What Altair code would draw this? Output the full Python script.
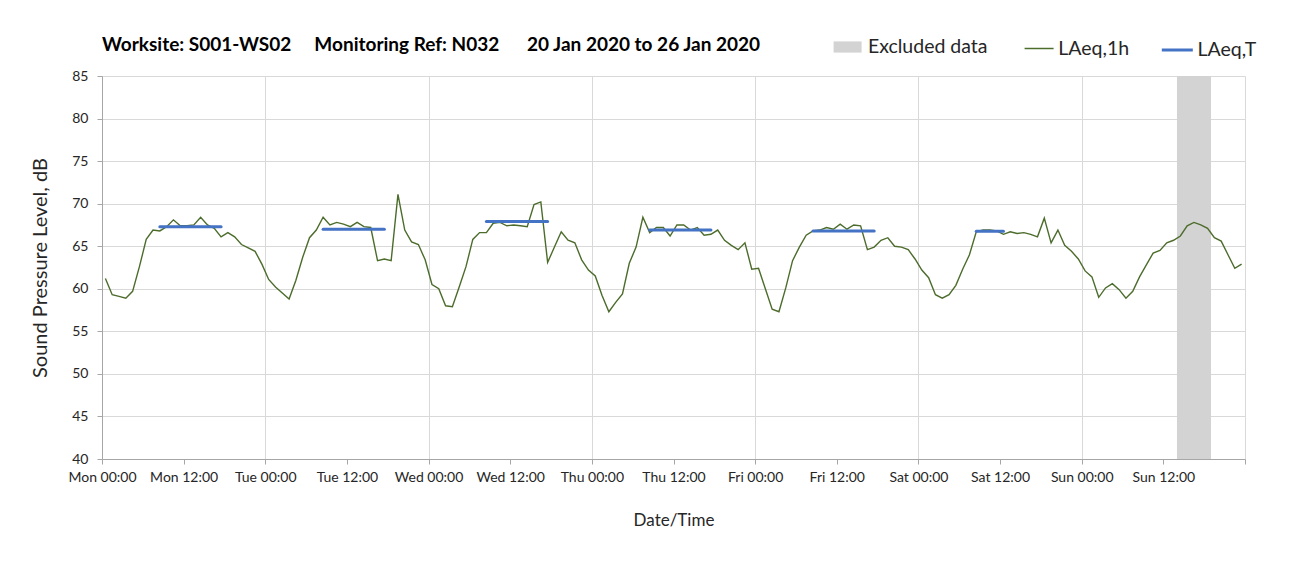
import json
import altair as alt
import pandas as pd

# ---------------- data ----------------
laeq_1h = [
    # Mon
    61.2, 59.3, 59.1, 58.9, 59.7, 62.6, 65.8, 66.9, 66.8, 67.3, 68.1, 67.4,
    67.4, 67.5, 68.4, 67.5, 67.1, 66.1, 66.6, 66.1, 65.2, 64.8, 64.4, 62.9,
    # Tue
    61.1, 60.2, 59.5, 58.8, 61.0, 63.7, 66.0, 66.9, 68.4, 67.5, 67.8, 67.6,
    67.3, 67.8, 67.3, 67.2, 63.3, 63.5, 63.3, 71.1, 66.9, 65.5, 65.2, 63.4,
    # Wed
    60.5, 60.0, 58.0, 57.9, 60.2, 62.6, 65.8, 66.6, 66.6, 67.7, 67.8, 67.4,
    67.5, 67.4, 67.3, 69.9, 70.2, 63.1, 64.9, 66.7, 65.7, 65.4, 63.4, 62.2,
    # Thu
    61.5, 59.2, 57.3, 58.4, 59.4, 63.0, 64.9, 68.4, 66.6, 67.2, 67.2, 66.2,
    67.5, 67.5, 66.9, 67.2, 66.3, 66.4, 66.9, 65.7, 65.1, 64.6, 65.4, 62.3,
    # Fri
    62.4, 60.0, 57.6, 57.3, 60.1, 63.3, 64.9, 66.3, 66.8, 66.9, 67.2, 67.0,
    67.6, 67.0, 67.5, 67.4, 64.6, 64.9, 65.7, 66.0, 65.0, 64.9, 64.6, 63.5,
    # Sat
    62.2, 61.3, 59.3, 58.9, 59.3, 60.4, 62.3, 64.0, 66.7, 66.9, 66.9, 66.8,
    66.4, 66.7, 66.5, 66.6, 66.4, 66.1, 68.3, 65.4, 66.9, 65.1, 64.4, 63.5,
    # Sun
    62.1, 61.4, 59.0, 60.1, 60.6, 59.9, 58.9, 59.7, 61.4, 62.8, 64.2, 64.5,
    65.4, 65.7, 66.2, 67.4, 67.8, 67.5, 67.1, 66.0, 65.6, 64.0, 62.4, 62.9,
]
hours = list(range(len(laeq_1h)))

# LAeq,T periods (start hour, end hour exclusive) and levels
laeq_t_start = [8, 32, 56, 80, 104, 128]
laeq_t_end = [18, 42, 66, 90, 114, 133]
laeq_t_level = [67.3, 67.0, 67.9, 66.9, 66.8, 66.75]

# Excluded data period (hours from Mon 00:00)
excluded_start = [158]
excluded_end = [163]

tick_labels = [
    "Mon 00:00", "Mon 12:00", "Tue 00:00", "Tue 12:00", "Wed 00:00", "Wed 12:00",
    "Thu 00:00", "Thu 12:00", "Fri 00:00", "Fri 12:00", "Sat 00:00", "Sat 12:00",
    "Sun 00:00", "Sun 12:00",
]
y_ticks = [40, 45, 50, 55, 60, 65, 70, 75, 80, 85]

title_text = ("Worksite: S001-WS02\u00a0\u00a0\u00a0\u00a0\u00a0Monitoring Ref: N032"
              "\u00a0\u00a0\u00a0\u00a0\u00a0\u00a020 Jan 2020 to 26 Jan 2020")

# ---------------- tables ----------------
df_line = pd.DataFrame({"t": [h + 0.5 for h in hours], "value": laeq_1h,
                        "series": "LAeq,1h"})
df_t = pd.DataFrame({"t0": [s + 0.5 for s in laeq_t_start],
                     "t1": [e - 0.5 for e in laeq_t_end],
                     "value": laeq_t_level, "series": "LAeq,T"})
df_ex = pd.DataFrame({"t0": excluded_start, "t1": excluded_end,
                      "series": "Excluded data"})

W, H = 1143, 383
FONT = "Lato"
GREEN = "#4c6c2c"
BLUE = "#4472c4"
GREY = "#d3d3d3"
GRID = "#d9d9d9"
AXIS = "#a6a6a6"
TXT = "#262626"

xscale = alt.Scale(domain=[0, 168], nice=False, zero=False)
yscale = alt.Scale(domain=[40, 85], nice=False, zero=False)

label_expr = json.dumps(tick_labels) + "[round(datum.value / 12)] || ''"

xaxis = alt.Axis(
    values=list(range(0, 169, 12)), labelExpr=label_expr, title="Date/Time",
    grid=True, gridColor=GRID, gridWidth=1,
    gridOpacity={"condition": {"test": "datum.value % 24 === 0", "value": 1}, "value": 0},
    domainColor=AXIS, tickColor=AXIS, tickSize=5, labelPadding=6,
    labelFont=FONT, labelFontSize=14, labelColor=TXT, labelFlush=False,
    labelOverlap=False,
    titleFont=FONT, titleFontSize=17, titleFontWeight="normal", titleColor=TXT,
    titlePadding=28,
)
yaxis = alt.Axis(
    values=y_ticks, title="Sound Pressure Level, dB",
    grid=True, gridColor=GRID, gridWidth=1,
    domainColor=AXIS, tickColor=AXIS, tickSize=5, labelPadding=9,
    labelFont=FONT, labelFontSize=14, labelColor=TXT,
    titleFont=FONT, titleFontSize=20, titleFontWeight="normal", titleColor=TXT,
    titlePadding=21,
)


def legend(x, y, shape, size, sw, offset):
    return alt.Legend(
        orient="none", legendX=x, legendY=y, title=None, padding=0,
        direction="horizontal", symbolType=shape, symbolSize=size,
        symbolStrokeWidth=sw, labelOffset=offset, labelFont=FONT,
        labelFontSize=19.5, labelColor=TXT, labelLimit=300,
    )


band = alt.Chart(df_ex).mark_rect(strokeWidth=0).encode(
    x=alt.X("t0:Q", scale=xscale, axis=xaxis),
    x2="t1:Q",
    y=alt.value(0),
    y2=alt.value(H),
    fill=alt.Fill("series:N",
                  scale=alt.Scale(domain=["Excluded data"], range=[GREY]),
                  legend=legend(731.6, -43, "M-1,-0.4H1V0.4H-1Z", 784, 0, 6.3)),
)

line = alt.Chart(df_line).mark_line(strokeWidth=1.4).encode(
    x=alt.X("t:Q", scale=xscale, axis=xaxis),
    y=alt.Y("value:Q", scale=yscale, axis=yaxis),
    stroke=alt.Stroke("series:N",
                      scale=alt.Scale(domain=["LAeq,1h"], range=[GREEN]),
                      legend=legend(921.6, -43, "stroke", 841, 1.5, 3.7)),
)

rule = alt.Chart(df_t).mark_rule(strokeWidth=3, strokeCap="round").encode(
    x=alt.X("t0:Q", scale=xscale, axis=xaxis),
    x2="t1:Q",
    y=alt.Y("value:Q", scale=yscale, axis=yaxis),
    color=alt.Color("series:N",
                    scale=alt.Scale(domain=["LAeq,T"], range=[BLUE]),
                    legend=legend(1058.3, -43, "stroke", 961, 3, 3.3)),
)

chart = alt.layer(band, line, rule).properties(
    width=W, height=H,
    title=alt.TitleParams(title_text, anchor="start", frame="group",
                          font=FONT, fontSize=19, fontWeight="bold",
                          color="black", offset=20, dy=42),
    autosize=alt.AutoSizeParams(type="none"),
    padding={"left": 94, "top": 68, "right": 50, "bottom": 90},
).configure_view(strokeWidth=0)

chart.save("out.html", embed_options={"renderer": "svg", "actions": False})
